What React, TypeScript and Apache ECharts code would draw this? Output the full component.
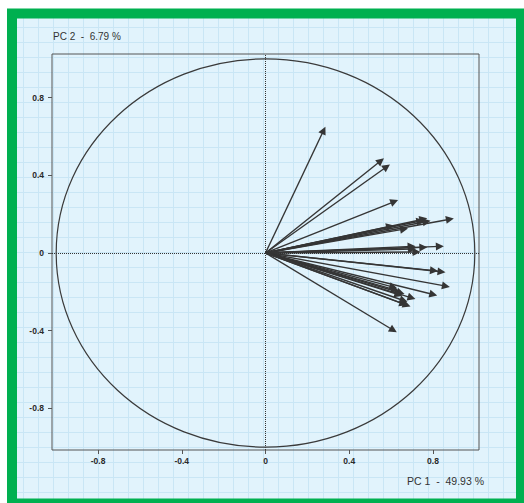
import React, { useEffect, useRef } from "react";
import * as echarts from "echarts";

const vectorNames = [
  "V1", "V2", "V3", "V4", "V5", "V6", "V7", "V8", "V9", "V10", "V11", "V12", "V13", "V14", "V15",
  "V16", "V17", "V18", "V19", "V20", "V21", "V22", "V23", "V24", "V25", "V26", "V27", "V28",
];
const pc1 = [
  0.278, 0.551, 0.579, 0.616, 0.754, 0.77, 0.881, 0.595, 0.662, 0.698, 0.754, 0.833, 0.722, 0.74, 0.7,
  0.805, 0.841, 0.862, 0.802, 0.611, 0.646, 0.698, 0.659, 0.675, 0.611, 0.62, 0.635, 0.66,
];
const pc2 = [
  0.632, 0.475, 0.444, 0.265, 0.174, 0.162, 0.174, 0.137, 0.123, 0.034, 0.029, 0.034, 0.005, 0.165, 0.02,
  -0.091, -0.097, -0.171, -0.214, -0.176, -0.205, -0.231, -0.262, -0.269, -0.398, -0.19, -0.215, -0.245,
];
const tickValues = [-0.8, -0.4, 0, 0.4, 0.8];
const xTitle = "PC 1  -  49.93 %";
const yTitle = "PC 2  -  6.79 %";

export default function App() {
  const ref = useRef<HTMLDivElement>(null);
  useEffect(() => {
    document.body.style.margin = "0";
    if (!ref.current) return;
    const chart = echarts.init(ref.current, null, { renderer: "svg" });
    const font = "'Liberation Sans', Arial, sans-serif";
    const tickLabel = {
      customValues: tickValues,
      fontSize: 8.5,
      fontWeight: "bold" as const,
      color: "#2a2a2a",
      fontFamily: font,
      formatter: (v: number) => (v === 0 ? "0" : String(v)),
    };
    chart.setOption({
      animation: false,
      backgroundColor: "#ffffff",
      grid: [
        { left: 52, top: 54, width: 427, height: 396, show: true, borderColor: "#555", borderWidth: 1, backgroundColor: "transparent", z: 5 },
        { left: 8, top: 12, right: 0, bottom: 0, show: true, borderWidth: 0, backgroundColor: "#e1f3fc", z: 0 },
      ],
      xAxis: [
        {
          type: "value", gridIndex: 0, min: -1.02, max: 1.02, position: "bottom",
          axisLine: { show: false, onZero: false },
          axisTick: { show: true, customValues: tickValues, length: 4, lineStyle: { color: "#555" } },
          axisLabel: { ...tickLabel, margin: 6 },
          splitLine: { show: false },
        },
        {
          type: "value", gridIndex: 1, min: 0, max: 516, interval: 15,
          axisLine: { show: false, onZero: false }, axisTick: { show: false }, axisLabel: { show: false },
          splitLine: { show: true, lineStyle: { color: "#c9e6f5", width: 1 } },
        },
      ],
      yAxis: [
        {
          type: "value", gridIndex: 0, min: -1.015, max: 1.025, position: "left",
          axisLine: { show: false, onZero: false },
          axisTick: { show: true, customValues: tickValues, length: 4, lineStyle: { color: "#555" } },
          axisLabel: { ...tickLabel, margin: 8 },
          splitLine: { show: false },
        },
        {
          type: "value", gridIndex: 1, min: 0, max: 491, interval: 15, inverse: true,
          axisLine: { show: false, onZero: false }, axisTick: { show: false }, axisLabel: { show: false },
          splitLine: { show: true, lineStyle: { color: "#c9e6f5", width: 1 } },
        },
      ],
      series: [
        {
          type: "custom",
          xAxisIndex: 0,
          yAxisIndex: 0,
          z: 6,
          data: [[0, 0]],
          renderItem: (params: any, api: any) => {
            const c = api.coord([0, 0]);
            const s = api.size([1, 1]);
            return {
              type: "ellipse",
              shape: { cx: c[0], cy: c[1], rx: s[0], ry: s[1] },
              style: { fill: "none", stroke: "#3a3a3a", lineWidth: 1.2 },
            };
          },
          markLine: {
            silent: true,
            symbol: "none",
            label: { show: false },
            lineStyle: { type: "dotted", color: "#333", width: 1 },
            data: [{ xAxis: 0 }, { yAxis: 0 }],
          },
        },
        {
          type: "lines",
          coordinateSystem: "cartesian2d",
          xAxisIndex: 0,
          yAxisIndex: 0,
          z: 7,
          symbol: ["none", "triangle"],
          symbolSize: [6, 8],
          lineStyle: { color: "#353535", width: 1.4, opacity: 1 },
          data: pc1.map((x, i) => ({ name: vectorNames[i], coords: [[0, 0], [x, pc2[i]]] })),
        },
      ],
      graphic: [
        {
          type: "rect", z: 100,
          shape: { x: 12, y: 13.5, width: 509, height: 490 },
          style: { fill: "none", stroke: "#00b050", lineWidth: 10 },
        },
        {
          type: "text", z: 100, left: 53, top: 31,
          style: { text: yTitle, fontSize: 10, fill: "#333", fontFamily: font },
        },
        {
          type: "text", z: 100, left: 407, top: 475,
          style: { text: xTitle, fontSize: 10.5, fill: "#333", fontFamily: font },
        },
      ],
    });
    return () => chart.dispose();
  }, []);
  return <div ref={ref} style={{ width: 524, height: 503 }} />;
}
